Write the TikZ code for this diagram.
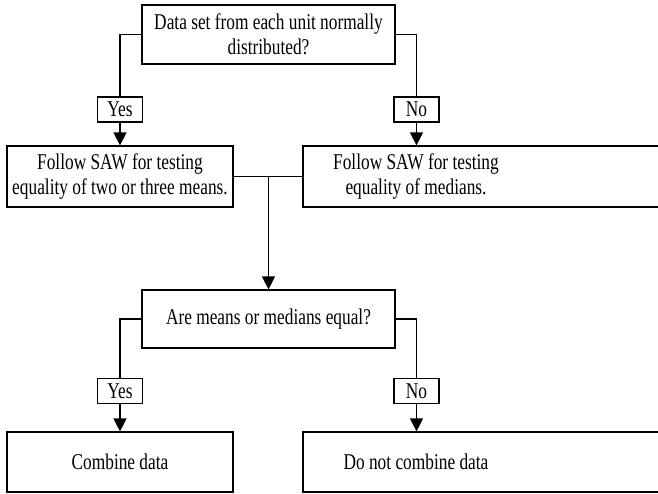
\documentclass[tikz,border=0pt]{standalone}
\usepackage{fontspec}
\setmainfont{Liberation Serif}[FakeStretch=0.77]
\usepackage{tikz}
\usetikzlibrary{arrows.meta}

\begin{document}
\begin{tikzpicture}[
		x=1pt, y=-1pt,
		box/.style={draw, line width=1.2pt, align=center, inner sep=0pt, font=\fontsize{22.5}{25}\selectfont},
		txt/.style={align=center, inner sep=0pt, font=\fontsize{22.5}{25}\selectfont},
		tag/.style={draw, line width=1.2pt, inner sep=0pt, minimum width=45pt, minimum height=25pt, font=\fontsize{22.5}{25}\selectfont},
		line width=1.2pt,
		>={Triangle[length=13pt, width=13pt]}
		]
		\useasboundingbox (0,0) rectangle (658,493);
		% Decisions
		\node[box, minimum width=253pt, minimum height=59pt] (normal) at (268.5,34.5) {Data set from each unit normally\\distributed?};
		\node[box, minimum width=253pt, minimum height=58pt] (equal) at (268.5,319) {Are means or medians equal?};
		
		% Tests (right-hand boxes run past the page edge)
		\node[box, minimum width=226pt, minimum height=61pt] (means) at (120,176.5) {Follow SAW for testing\\equality of two or three means.};
		\node[box, minimum width=380pt, minimum height=61pt] (medians) at (493,176.5) {};
		\node[txt] (medianstxt) at (416,176.5) {Follow SAW for testing\\equality of medians.};
		
		% Outcomes
		\node[box, minimum width=226pt, minimum height=60pt] (combine) at (120,462) {Combine data};
		\node[box, minimum width=380pt, minimum height=60pt] (nocombine) at (493,462) {};
		\node[txt] (nocombinetxt) at (416,462) {Do not combine data};
		
		% Yes / No tags
		\node[tag] (yesA) at (120,109.5) {Yes};
		\node[tag] (noA) at (416.5,109.5) {No};
		\node[tag] (yesB) at (120,391) {Yes};
		\node[tag] (noB) at (416.5,391) {No};
		
		% Connectors
		\draw (normal.west) -| (yesA.north);
		\draw (normal.east) -| (noA.north);
		\draw[->] (yesA.south) -- (means.north);
		\draw[->] (noA.south) -- (noA.south |- medians.north);
		\draw (means.east) -- (medians.west);
		\draw[->] (means.east -| equal.north) -- (equal.north);
		\draw (equal.west) -| (yesB.north);
		\draw (equal.east) -| (noB.north);
		\draw[->] (yesB.south) -- (combine.north);
		\draw[->] (noB.south) -- (noB.south |- nocombine.north);
	\end{tikzpicture}
\end{document}
